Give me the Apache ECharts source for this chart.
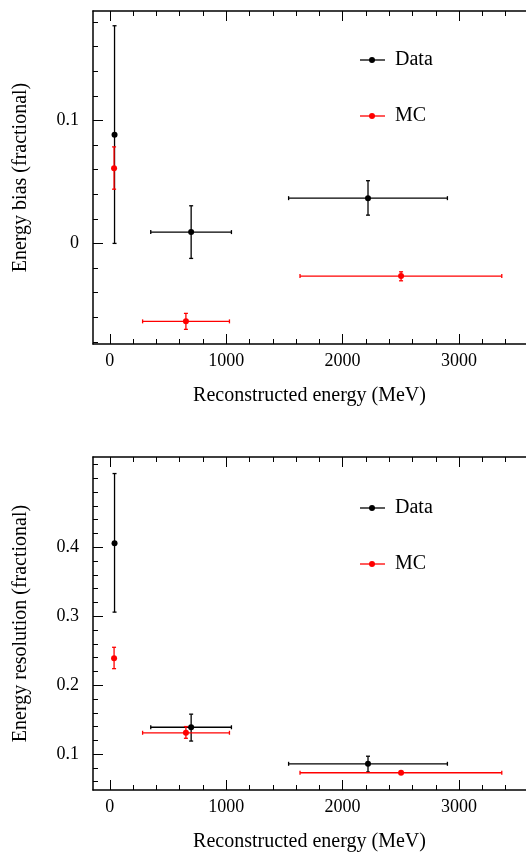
<!DOCTYPE html>
<html>
<head>
<meta charset="utf-8">
<script src="https://cdn.jsdelivr.net/npm/echarts@6/dist/echarts.min.js"></script>
<style>html,body{margin:0;padding:0;background:#fff;}#main{width:526px;height:853px;}</style>
</head>
<body>
<div id="main"></div>
<script>
// [energy, value, xLow, xHigh, yLow, yHigh]
var biasData = [[41, 0.0883, 41, 41, 0.0, 0.177], [699, 0.0092, 352, 1045, -0.0122, 0.0306], [2218, 0.0368, 1536, 2900, 0.023, 0.051]];
var biasMC = [[37, 0.0612, 37, 37, 0.0441, 0.0785], [654, -0.0634, 282, 1028, -0.0699, -0.0569], [2502, -0.0266, 1634, 3367, -0.0304, -0.0231]];
var resData = [[41, 0.406, 41, 41, 0.306, 0.507], [699, 0.139, 352, 1045, 0.119, 0.158], [2218, 0.086, 1536, 2900, 0.074, 0.097]];
var resMC = [[37, 0.239, 37, 37, 0.224, 0.255], [654, 0.131, 282, 1028, 0.123, 0.140], [2502, 0.073, 1634, 3367, 0.073, 0.073]];
var xLabels = [0, 1000, 2000, 3000];
var xMinor = [200, 400, 600, 800, 1200, 1400, 1600, 1800, 2200, 2400, 2600, 2800, 3200, 3400];
var biasLabels = [0, 0.1];
var biasMinor = [-0.08, -0.06, -0.04, -0.02, 0.02, 0.04, 0.06, 0.08, 0.12, 0.14, 0.16, 0.18];
var resLabels = [0.1, 0.2, 0.3, 0.4];
var resMinor = [0.06, 0.08, 0.12, 0.14, 0.16, 0.18, 0.22, 0.24, 0.26, 0.28, 0.32, 0.34, 0.36, 0.38, 0.42, 0.44, 0.46, 0.48, 0.5, 0.52];

var font = 'Liberation Serif';
var chart = echarts.init(document.getElementById('main'));

function xAxes(g, name) {
    var base = {gridIndex: g, type: 'value', min: -144, max: 3575, splitLine: {show: false}};
    return [
        Object.assign({}, base, {position: 'bottom', name: name, nameLocation: 'middle', nameGap: 42,
            nameTextStyle: {fontFamily: font, fontSize: 20, color: '#000'},
            axisLine: {onZero: false, lineStyle: {color: '#000', width: 1.5}},
            axisTick: {inside: true, length: 10, customValues: xLabels, lineStyle: {color: '#000'}},
            axisLabel: {customValues: xLabels, fontFamily: font, fontSize: 18, color: '#000', margin: 8,
                formatter: function (v) { return String(v); }}}),
        Object.assign({}, base, {position: 'bottom', axisLine: {show: false, onZero: false},
            axisTick: {inside: true, length: 5, customValues: xMinor, lineStyle: {color: '#000'}}, axisLabel: {show: false}}),
        Object.assign({}, base, {position: 'top', axisLine: {onZero: false, lineStyle: {color: '#000', width: 1.5}},
            axisTick: {inside: true, length: 10, customValues: xLabels, lineStyle: {color: '#000'}}, axisLabel: {show: false}}),
        Object.assign({}, base, {position: 'top', axisLine: {show: false, onZero: false},
            axisTick: {inside: true, length: 5, customValues: xMinor, lineStyle: {color: '#000'}}, axisLabel: {show: false}})
    ];
}
function yAxes(g, min, max, labels, minor, name, fmt) {
    var base = {gridIndex: g, type: 'value', min: min, max: max, position: 'left', splitLine: {show: false}};
    return [
        Object.assign({}, base, {name: name, nameLocation: 'middle', nameGap: 62,
            nameTextStyle: {fontFamily: font, fontSize: 20, color: '#000'},
            axisLine: {show: true, onZero: false, lineStyle: {color: '#000', width: 1.5}},
            axisTick: {inside: true, length: 10, customValues: labels, lineStyle: {color: '#000'}},
            axisLabel: {customValues: labels, fontFamily: font, fontSize: 18, color: '#000', margin: 14, formatter: fmt}}),
        Object.assign({}, base, {axisLine: {show: false, onZero: false},
            axisTick: {inside: true, length: 5, customValues: minor, lineStyle: {color: '#000'}}, axisLabel: {show: false}})
    ];
}

function errSeries(data, color, xi, yi) {
    return {
        type: 'custom', xAxisIndex: xi, yAxisIndex: yi, data: data, clip: false,
        renderItem: function (params, api) {
            var c = api.coord([api.value(0), api.value(1)]);
            var xl = api.coord([api.value(2), api.value(1)])[0];
            var xh = api.coord([api.value(3), api.value(1)])[0];
            var yl = api.coord([api.value(0), api.value(4)])[1];
            var yh = api.coord([api.value(0), api.value(5)])[1];
            var st = {stroke: color, lineWidth: 1.3};
            var ch = [];
            if (xh - xl > 1) {
                ch.push({type: 'line', shape: {x1: xl, y1: c[1], x2: xh, y2: c[1]}, style: st});
                ch.push({type: 'line', shape: {x1: xl, y1: c[1] - 2, x2: xl, y2: c[1] + 2}, style: st});
                ch.push({type: 'line', shape: {x1: xh, y1: c[1] - 2, x2: xh, y2: c[1] + 2}, style: st});
            }
            if (yl - yh > 1) {
                ch.push({type: 'line', shape: {x1: c[0], y1: yl, x2: c[0], y2: yh}, style: st});
                ch.push({type: 'line', shape: {x1: c[0] - 2, y1: yl, x2: c[0] + 2, y2: yl}, style: st});
                ch.push({type: 'line', shape: {x1: c[0] - 2, y1: yh, x2: c[0] + 2, y2: yh}, style: st});
            }
            ch.push({type: 'circle', shape: {cx: c[0], cy: c[1], r: 3}, style: {fill: color}});
            return {type: 'group', children: ch};
        }
    };
}

function legendItem(y, color, text) {
    return [
        {type: 'line', shape: {x1: 360, y1: y, x2: 385, y2: y}, style: {stroke: color, lineWidth: 1.3}},
        {type: 'circle', shape: {cx: 372, cy: y, r: 3}, style: {fill: color}},
        {type: 'text', x: 395, y: y, style: {text: text, fontFamily: font, fontSize: 20, fill: '#000', verticalAlign: 'middle'}}
    ];
}

var option = {
    animation: false,
    grid: [
        {left: 93, top: 11, width: 440, height: 333},
        {left: 93, top: 457, width: 440, height: 335}
    ],
    xAxis: xAxes(0, 'Reconstructed energy (MeV)').concat(xAxes(1, 'Reconstructed energy (MeV)')),
    yAxis: yAxes(0, -0.0818, 0.189, biasLabels, biasMinor, 'Energy bias (fractional)', function (v) { return v === 0 ? '0' : v.toFixed(1); })
        .concat(yAxes(1, 0.048, 0.531, resLabels, resMinor, 'Energy resolution (fractional)', function (v) { return v.toFixed(1); })),
    series: [
        errSeries(biasData, '#000', 0, 0),
        errSeries(biasMC, '#ff0000', 0, 0),
        errSeries(resData, '#000', 4, 2),
        errSeries(resMC, '#ff0000', 4, 2)
    ],
    graphic: [].concat(legendItem(60, '#000', 'Data'), legendItem(116, '#ff0000', 'MC'),
        legendItem(508, '#000', 'Data'), legendItem(564, '#ff0000', 'MC'))
};
chart.setOption(option);
</script>
</body>
</html>
